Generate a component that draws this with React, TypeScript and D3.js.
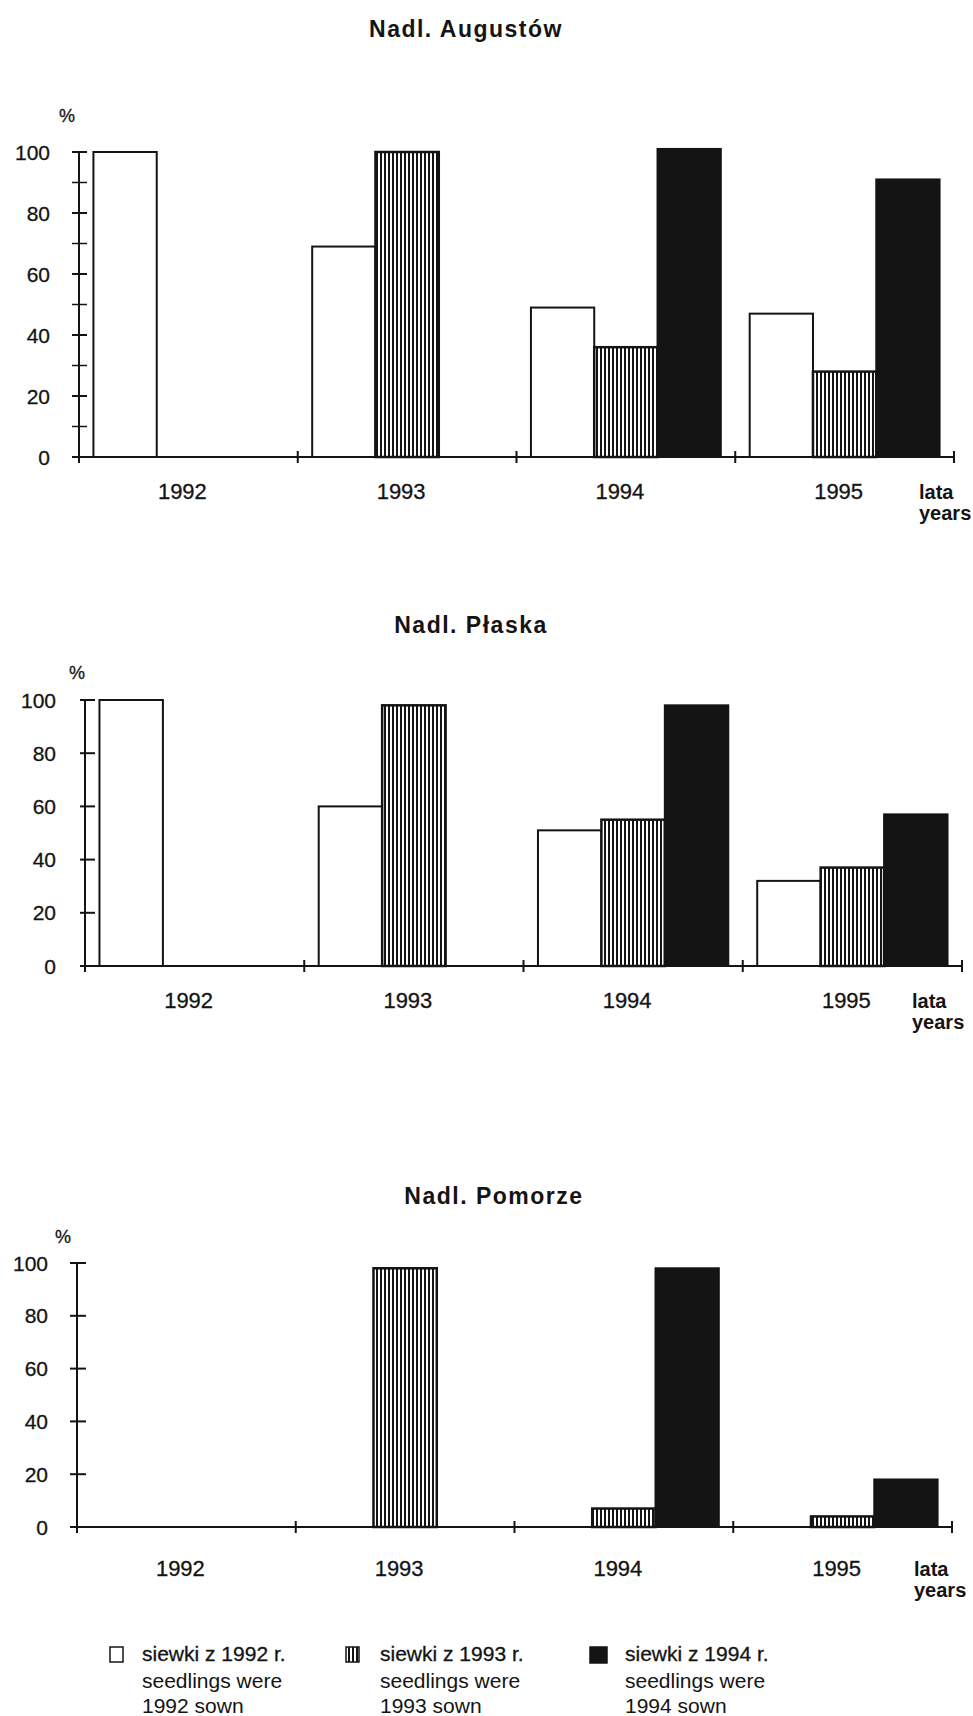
import React from "react";
import * as d3 from "d3";

// ---- data ----
const years = ["1992", "1993", "1994", "1995"];
const seriesKeys = ["s1992", "s1993", "s1994"];
const yTicks = [0, 20, 40, 60, 80, 100];
const minorTicks = [10, 30, 50, 70, 90];

const augustow1992 = [100, 69, 49, 47];
const augustow1993 = [0, 100, 36, 28];
const augustow1994 = [0, 0, 101, 91];

const plaska1992 = [100, 60, 51, 32];
const plaska1993 = [0, 98, 55, 37];
const plaska1994 = [0, 0, 98, 57];

const pomorze1992 = [0, 0, 0, 0];
const pomorze1993 = [0, 98, 7, 4];
const pomorze1994 = [0, 0, 98, 18];

const legendTitles = ["siewki z 1992 r.", "siewki z 1993 r.", "siewki z 1994 r."];
const legendLine2 = ["seedlings were", "seedlings were", "seedlings were"];
const legendLine3 = ["1992 sown", "1993 sown", "1994 sown"];

// ---- layout (not data) ----
const panels = [
  { title: "Nadl. Augustów", series: [augustow1992, augustow1993, augustow1994], x0: 79, x1: 954, y0: 457, y100: 152, titleX: 466, titleY: 37, labelY: 499, lataX: 919, pct: [67, 122], minor: true, tickLeft: 7, tickRight: 8 },
  { title: "Nadl. Płaska", series: [plaska1992, plaska1993, plaska1994], x0: 85, x1: 962, y0: 966, y100: 700, titleX: 471, titleY: 633, labelY: 1008, lataX: 912, pct: [77, 679], minor: false, tickLeft: 5, tickRight: 10 },
  { title: "Nadl. Pomorze", series: [pomorze1992, pomorze1993, pomorze1994], x0: 77, x1: 952, y0: 1527, y100: 1263, titleX: 494, titleY: 1204, labelY: 1576, lataX: 914, pct: [63, 1243], minor: false, tickLeft: 7, tickRight: 9 },
];

const FONT = "'Liberation Sans', Arial, Helvetica, sans-serif";
const INK = "#141414";
const fills = ["#ffffff", "url(#vhatch)", INK];

function Panel({ p }: { p: any }) {
  const x = d3.scaleBand<string>().domain(years).range([p.x0, p.x1]).paddingInner(0).paddingOuter(0);
  const y = d3.scaleLinear().domain([0, 100]).range([p.y0, p.y100]);
  const bw = x.bandwidth();
  const inner = d3.scaleBand<string>().domain(seriesKeys).range([bw * 0.066, bw * 0.934]).padding(0);
  const boundaries = years.map((yr) => x(yr) as number).concat([p.x1]);
  return (
    <g>
      <text x={p.titleX} y={p.titleY} textAnchor="middle" fontFamily={FONT} fontWeight="bold" fontSize={23} letterSpacing={1.5} fill={INK}>
        {p.title}
      </text>
      <text x={p.pct[0]} y={p.pct[1]} textAnchor="middle" fontFamily={FONT} fontSize={18} stroke={INK} strokeWidth={0.3} fill={INK}>%</text>
      {/* bars */}
      {years.map((yr, i) => (
        <g key={yr}>
          {p.series.map((s: number[], k: number) =>
            s[i] > 0 ? (
              <rect
                key={k}
                x={(x(yr) as number) + (inner(seriesKeys[k]) as number)}
                y={y(s[i])}
                width={inner.bandwidth()}
                height={p.y0 - y(s[i])}
                fill={fills[k]}
                stroke={INK}
                strokeWidth={k === 1 ? 2.5 : 2}
              />
            ) : null
          )}
        </g>
      ))}
      {/* y axis */}
      <line x1={p.x0} x2={p.x0} y1={y(100) - 1} y2={p.y0 + 6} stroke={INK} strokeWidth={2} />
      {yTicks.map((t) => (
        <g key={t}>
          <line x1={p.x0 - p.tickLeft} x2={p.x0 + p.tickRight} y1={y(t)} y2={y(t)} stroke={INK} strokeWidth={2} />
          <text x={p.x0 - 29} y={y(t)} dy="0.36em" textAnchor="end" fontFamily={FONT} fontSize={21} stroke={INK} strokeWidth={0.3} fill={INK}>
            {t}
          </text>
        </g>
      ))}
      {p.minor &&
        minorTicks.map((t) => (
          <line key={t} x1={p.x0 - p.tickLeft} x2={p.x0 + p.tickRight} y1={y(t)} y2={y(t)} stroke={INK} strokeWidth={1.5} />
        ))}
      {/* x axis */}
      <line x1={p.x0} x2={p.x1} y1={p.y0} y2={p.y0} stroke={INK} strokeWidth={2} />
      {boundaries.slice(1).map((bx, i) => (
        <line key={i} x1={bx} x2={bx} y1={p.y0 - 6} y2={p.y0 + 6} stroke={INK} strokeWidth={2} />
      ))}
      {years.map((yr) => (
        <text key={yr} x={(x(yr) as number) + bw / 2 - 6} y={p.labelY} textAnchor="middle" fontFamily={FONT} fontSize={22} stroke={INK} strokeWidth={0.3} fill={INK}>
          {yr}
        </text>
      ))}
      <text x={p.lataX} y={p.labelY} fontFamily={FONT} fontWeight="bold" fontSize={20} fill={INK}>lata</text>
      <text x={p.lataX} y={p.labelY + 21} fontFamily={FONT} fontWeight="bold" fontSize={20} fill={INK}>years</text>
    </g>
  );
}

const legendX = [110, 346, 590];
const legendTextX = [142, 380, 625];

export default function App() {
  return (
    <svg
      width={973}
      height={1716}
      viewBox="0 0 973 1716"
      style={{ position: "absolute", left: 0, top: 0, background: "#fff", display: "block" }}
    >
      <defs>
        <pattern id="vhatch" width={4} height={10} patternUnits="userSpaceOnUse">
          <rect width={4} height={10} fill="#ffffff" />
          <rect width={2} height={10} fill={INK} />
        </pattern>
      </defs>
      <rect width={973} height={1716} fill="#fff" />
      {panels.map((p, i) => (
        <Panel key={i} p={p} />
      ))}
      {/* legend */}
      {legendTitles.map((t, i) => (
        <g key={i}>
          <rect
            x={legendX[i]}
            y={i === 2 ? 1647 : 1647}
            width={i === 2 ? 17 : 13}
            height={i === 2 ? 16 : 15}
            fill={fills[i]}
            stroke={INK}
            strokeWidth={1.5}
          />
          <text x={legendTextX[i]} y={1661} fontFamily={FONT} fontSize={21} stroke={INK} strokeWidth={0.3} fill={INK}>{t}</text>
          <text x={legendTextX[i]} y={1688} fontFamily={FONT} fontSize={21} fill={INK}>{legendLine2[i]}</text>
          <text x={legendTextX[i]} y={1713} fontFamily={FONT} fontSize={21} fill={INK}>{legendLine3[i]}</text>
        </g>
      ))}
    </svg>
  );
}
